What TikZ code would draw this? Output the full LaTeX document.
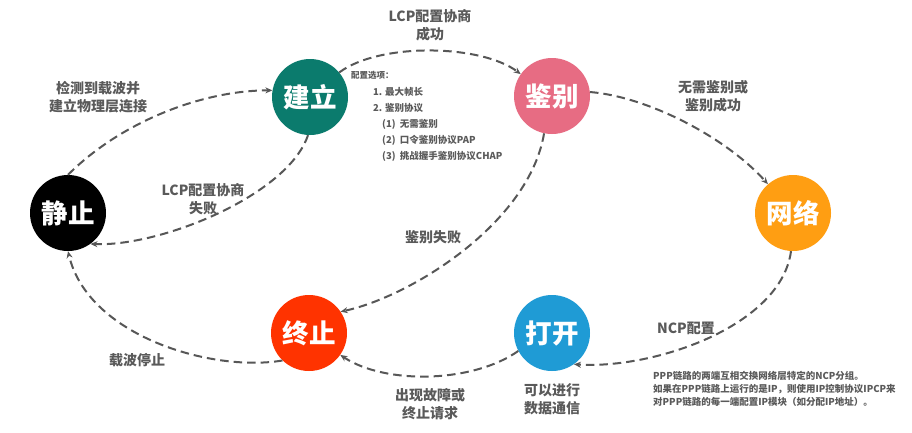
\documentclass[tikz,border=0pt]{standalone}
\usepackage{fontspec}
\setmainfont{Noto Sans CJK SC}
\usetikzlibrary{arrows.meta}
\definecolor{cteal}{HTML}{0B7B6D}
\definecolor{cpink}{HTML}{E76C83}
\definecolor{corange}{HTML}{FF9E12}
\definecolor{cblue}{HTML}{1F9BD5}
\definecolor{cred}{HTML}{FF3300}
\definecolor{cgray}{HTML}{575757}
\definecolor{ctext}{HTML}{5A5A5A}
\begin{document}
\begin{tikzpicture}[x=1pt,y=-1pt,
  state/.style={circle,minimum size=76pt,inner sep=0pt,text=white,
    font=\fontsize{26.5}{26.5}\selectfont\bfseries},
  flow/.style={draw=cgray,line width=2pt,dash pattern=on 8.5pt off 5pt,
    -{Stealth[length=7pt,width=6pt]}},
  lbl/.style={text=ctext,align=center,font=\fontsize{14}{18}\selectfont\bfseries},
  cfg/.style={text=ctext,anchor=west,inner sep=0pt,font=\fontsize{9.5}{11}\selectfont\bfseries},
  note/.style={text=ctext,anchor=north west,align=left,inner sep=0pt,
    font=\fontsize{9.5}{13}\selectfont\bfseries}]
\path[use as bounding box,fill=white] (0,0) rectangle (912,432);

\node[state,fill=black]   (jz) at (68,213)  {静止};
\node[state,fill=cteal]   (jl) at (310,97)  {建立};
\node[state,fill=cpink]   (jb) at (552,96)  {鉴别};
\node[state,fill=corange] (wl) at (793,213) {网络};
\node[state,fill=cblue]   (dk) at (552,333) {打开};
\node[state,fill=cred]    (zz) at (309,333) {终止};

\draw[flow] (jz.90) .. controls +(53,-53) and +(-70,0) .. (jl.170);
\draw[flow] (jl.40) .. controls +(40,-30) and +(-40,-30) .. (jb.145);
\draw[flow] (jb.6) .. controls +(60,5) and +(-40,-45) .. (wl.131);
\draw[flow] (wl.267) .. controls +(-10,75) and +(80,5) .. (dk.305);
\draw[flow] (dk.208) .. controls +(-45,32) and +(45,30) .. (zz.325);
\draw[flow] (zz.226) .. controls +(-70,12) and +(20,85) .. (jz.270);
\draw[flow] (jl.267) .. controls +(-20,60) and +(70,3) .. (jz.306);
\draw[flow] (jb.258) .. controls +(-15,90) and +(70,-15) .. (zz.34);

\node[lbl] (l1) at (98,97) {检测到载波并\\建立物理层连接};
\node[lbl] (l2) at (430,25) {LCP配置协商\\成功};
\node[lbl] (l3) at (713,96) {无需鉴别或\\鉴别成功};
\node[lbl] (l4) at (686,328) {NCP配置};
\node[lbl] (l5) at (430,404) {出现故障或\\终止请求};
\node[lbl] (l6) at (552,399) {可以进行\\数据通信};
\node[lbl] (l7) at (137,360) {载波停止};
\node[lbl] (l8) at (203,199) {LCP配置协商\\失败};
\node[lbl] (l9) at (433,237) {鉴别失败};

\node[cfg,font=\fontsize{8.5}{10}\selectfont\bfseries] (c0) at (351,75) {配置选项：};
\node[cfg] (c1) at (373,92) {1. 最大帧长};
\node[cfg] (c2) at (373,108) {2. 鉴别协议};
\node[cfg] (c3) at (382,124) {(1)\ \ 无需鉴别};
\node[cfg] (c4) at (382,140) {(2)\ \ 口令鉴别协议PAP};
\node[cfg] (c5) at (382,156) {(3)\ \ 挑战握手鉴别协议CHAP};

\node[note] (n1) at (653,371) {PPP链路的两端互相交换网络层特定的NCP分组。\\如果在PPP链路上运行的是IP，则使用IP控制协议IPCP来\\对PPP链路的每一端配置IP模块（如分配IP地址）。};
\end{tikzpicture}
\end{document}
